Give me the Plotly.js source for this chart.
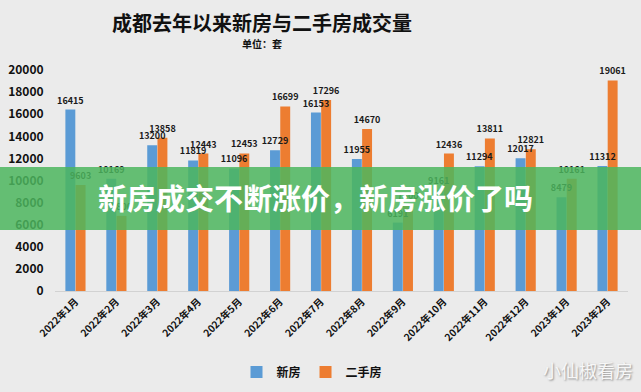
<!DOCTYPE html>
<html>
<head>
<meta charset="utf-8">
<script src="https://cdn.plot.ly/plotly-3.0.1.min.js"></script>
<style>
html,body{margin:0;padding:0;background:#ebebeb;}
#chart{width:641px;height:392px;}
</style>
</head>
<body>
<div id="chart"></div>
<script>
const months = ["2022年1月","2022年2月","2022年3月","2022年4月","2022年5月","2022年6月","2022年7月","2022年8月","2022年9月","2022年10月","2022年11月","2022年12月","2023年1月","2023年2月"];
const newHomes = [16415, 10169, 13200, 11819, 11096, 12729, 16153, 11955, 6191, 9161, 11294, 12017, 8479, 11312];
const resale = [9603, 6800, 13858, 12443, 12453, 16699, 17296, 14670, 7800, 12436, 13811, 12821, 10161, 19061];
const yTicks = [0, 2000, 4000, 6000, 8000, 10000, 12000, 14000, 16000, 18000, 20000];

const FONT = "'Noto Sans CJK SC', 'Noto Sans', sans-serif";
const labelFont = {family: FONT, size: 9, color: '#1a1a1a', weight: 'bold'};

function barTrace(name, vals, color, group) {
  return {type: 'bar', name: name, x: months, y: vals, marker: {color: color},
          offsetgroup: group, hoverinfo: 'x+y'};
}
function labelTrace(vals, group) {
  return {type: 'bar', x: months, y: vals, offsetgroup: group, showlegend: false,
          marker: {color: 'rgba(0,0,0,0)'}, text: vals.map(String), textposition: 'outside',
          textfont: labelFont, constraintext: 'none', cliponaxis: false, hoverinfo: 'skip'};
}

const traces = [
  barTrace('新房', newHomes, '#5b9bd5', 'a'),
  barTrace('二手房', resale, '#ed7d31', 'b'),
  labelTrace(newHomes, 'a'),
  labelTrace(resale, 'b')
];

const layout = {
  width: 641, height: 392,
  paper_bgcolor: '#ebebeb', plot_bgcolor: '#ebebeb',
  margin: {l: 55, r: 13, t: 70, b: 101},
  barmode: 'group', bargap: 0.5, bargroupgap: 0.03,
  font: {family: FONT, color: '#111'},
  title: {text: '成都去年以来新房与二手房成交量', xref: 'container', yref: 'container',
          x: 262/641, xanchor: 'center', y: 1 - 24/392, yanchor: 'middle',
          font: {family: FONT, size: 20, color: '#111', weight: 'bold'}},
  xaxis: {type: 'category', tickangle: -45, showline: true, linecolor: '#d2d2d2', linewidth: 1,
          ticks: '', showgrid: false, zeroline: false,
          tickfont: {family: FONT, size: 10, color: '#111', weight: 'bold'}},
  yaxis: {range: [0, 20000], tickvals: yTicks, ticktext: yTicks.map(String), showgrid: false,
          zeroline: false, showline: false, ticks: 'outside', ticklen: 8, tickcolor: 'rgba(0,0,0,0)',
          tickfont: {family: FONT, size: 12, color: '#111', weight: 'bold'}},
  showlegend: true,
  legend: {orientation: 'h', x: 312/641, xanchor: 'center', xref: 'container',
           y: 1 - 372/392, yref: 'container', yanchor: 'middle',
           font: {family: FONT, size: 12, color: '#111', weight: 'bold'},
           itemwidth: 30, traceorder: 'normal', bgcolor: 'rgba(0,0,0,0)'},
  shapes: [{type: 'rect', xref: 'paper', yref: 'paper', layer: 'above',
            x0: -55/573, x1: 586/573, y0: (291-230)/221, y1: (291-167)/221,
            fillcolor: 'rgba(76,182,94,0.85)', line: {width: 0}}],
  annotations: [
    {text: '单位：套', xref: 'paper', yref: 'paper', x: (262-55)/573, y: (291-44)/221,
     xanchor: 'center', yanchor: 'middle', showarrow: false,
     font: {family: FONT, size: 10, color: '#111', weight: 'bold'}},
    {text: '新房成交不断涨价，新房涨价了吗', xref: 'paper', yref: 'paper',
     x: (315-55)/573, y: (291-197)/221, xanchor: 'center', yanchor: 'middle', showarrow: false,
     font: {family: FONT, size: 29, color: '#ffffff', weight: 'bold'}},
    {text: '小仙椒看房', xref: 'paper', yref: 'paper', x: (588-55)/573, y: (291-370)/221,
     xanchor: 'center', yanchor: 'middle', showarrow: false,
     font: {family: FONT, size: 18, color: '#f7f7f7', shadow: '1px 1px 2px #8a8a8a'}}
  ]
};

Plotly.newPlot('chart', traces, layout, {displayModeBar: false, staticPlot: true});
</script>
</body>
</html>
